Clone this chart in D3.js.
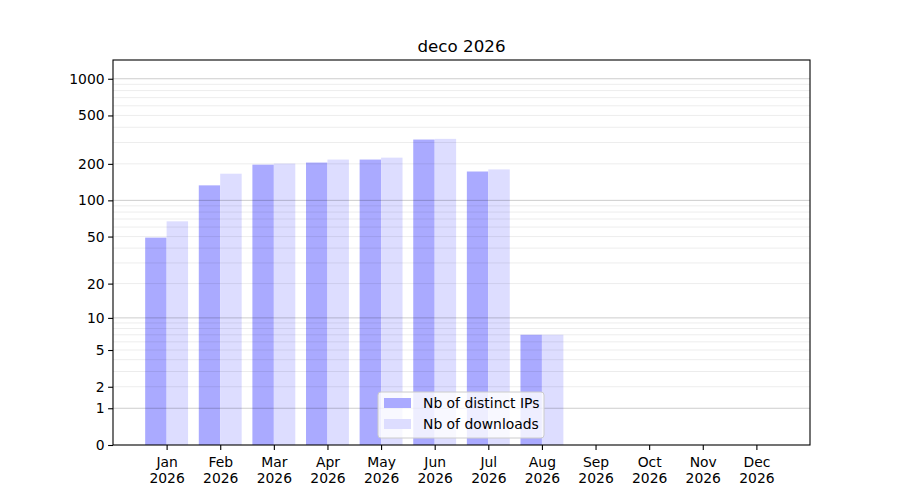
<!DOCTYPE html>
<html>
<head>
<meta charset="utf-8">
<script src="https://cdn.jsdelivr.net/npm/d3@7"></script>
<style>
  body { margin: 0; background: #fff; }
  svg text { font-family: "DejaVu Sans", sans-serif; fill: #000; }
</style>
</head>
<body>
<svg id="chart"></svg>
<script>
const title = 'deco 2026';
const months = ['Jan', 'Feb', 'Mar', 'Apr', 'May', 'Jun', 'Jul', 'Aug', 'Sep', 'Oct', 'Nov', 'Dec'];
const year = '2026';
const distinctIPs = [49, 133, 197, 205, 217, 317, 173, 7, 0, 0, 0, 0];
const downloads = [67, 166, 201, 217, 225, 321, 180, 7, 0, 0, 0, 0];
const yTicks = [0, 1, 2, 5, 10, 20, 50, 100, 200, 500, 1000];
const yMajor = [1, 10, 100, 1000];
const yMinor = [2, 3, 4, 5, 6, 7, 8, 9, 20, 30, 40, 50, 60, 70, 80, 90, 200, 300, 400, 500, 600, 700, 800, 900];
const seriesNames = ['Nb of distinct IPs', 'Nb of downloads'];
const seriesColors = ['#aaaaff', '#ddddff'];

const width = 900, height = 500;
const margin = { top: 60, right: 90, bottom: 55, left: 113 };
const w = width - margin.left - margin.right;
const h = height - margin.top - margin.bottom;

const svg = d3.select('#chart').attr('width', width).attr('height', height);
const chart = svg.append('g').attr('transform', `translate(${margin.left},${margin.top})`);

const x = d3.scaleLinear().domain([-1, months.length]).range([0, w]);
const y = d3.scaleSymlog().constant(1).domain([0, 1425]).range([h, 0]);
const step = x(1) - x(0);
const barW = step * 0.4;

// bars
const series = [distinctIPs, downloads];
series.forEach((vals, s) => {
    chart.append('g').selectAll('rect')
        .data(vals)
        .join('rect')
        .attr('x', (d, i) => x(i) - barW + s * barW)
        .attr('y', d => y(d))
        .attr('width', barW)
        .attr('height', d => h - y(d))
        .attr('fill', seriesColors[s]);
});

// grid on top of bars
chart.append('g').selectAll('line')
    .data(yMinor)
    .join('line')
    .attr('x1', 0).attr('x2', w)
    .attr('y1', d => y(d)).attr('y2', d => y(d))
    .attr('stroke', '#000').attr('stroke-opacity', 0.075).attr('stroke-width', 1);
chart.append('g').selectAll('line')
    .data(yMajor)
    .join('line')
    .attr('x1', 0).attr('x2', w)
    .attr('y1', d => y(d)).attr('y2', d => y(d))
    .attr('stroke', '#000').attr('stroke-opacity', 0.2).attr('stroke-width', 1);

// axes
const xAxisG = chart.append('g')
    .attr('transform', `translate(0,${h})`)
    .call(d3.axisBottom(x).tickValues(d3.range(months.length)).tickSize(4.9).tickPadding(3.5).tickFormat(''));
xAxisG.select('.domain').remove();
xAxisG.selectAll('.tick line').attr('stroke-width', 1.1);
xAxisG.selectAll('.tick').each(function (d) {
    const t = d3.select(this).append('text')
        .attr('text-anchor', 'middle')
        .style('font-size', '13.9px');
    t.append('tspan').attr('x', 0).attr('y', 22).text(months[d]);
    t.append('tspan').attr('x', 0).attr('y', 38).text(year);
});

const yAxisG = chart.append('g')
    .call(d3.axisLeft(y).tickValues(yTicks).tickSize(4.9).tickPadding(3.5).tickFormat(d3.format('d')));
yAxisG.select('.domain').remove();
yAxisG.selectAll('.tick line').attr('stroke-width', 1.1);
yAxisG.selectAll('.tick text').style('font-size', '13.9px').attr('fill', '#000');

// frame
chart.append('rect')
    .attr('width', w).attr('height', h)
    .attr('fill', 'none').attr('stroke', '#000').attr('stroke-width', 1.1);

// title
svg.append('text')
    .attr('x', margin.left + w / 2).attr('y', margin.top - 8)
    .attr('text-anchor', 'middle')
    .style('font-size', '16.7px')
    .text(title);

// legend
const lg = chart.append('g').attr('transform', `translate(${378 - margin.left},${392 - margin.top})`);
lg.append('rect')
    .attr('width', 166).attr('height', 46).attr('rx', 3)
    .attr('fill', '#fff').attr('fill-opacity', 0.8)
    .attr('stroke', '#ccc').attr('stroke-width', 1);
seriesNames.forEach((name, i) => {
    lg.append('rect')
        .attr('x', 6).attr('y', 6 + i * 21)
        .attr('width', 27).attr('height', 10)
        .attr('fill', seriesColors[i]);
    lg.append('text')
        .attr('x', 45).attr('y', 16 + i * 21)
        .style('font-size', '13.9px')
        .text(name);
});
</script>
</body>
</html>
